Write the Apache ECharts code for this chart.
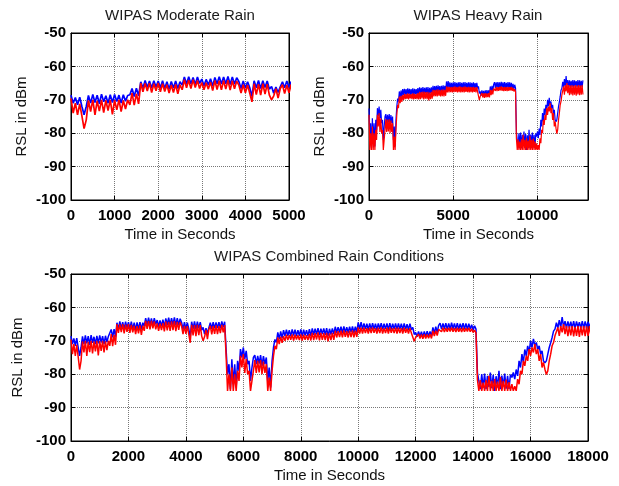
<!DOCTYPE html>
<html>
<head>
<meta charset="utf-8">
<script src="https://cdn.jsdelivr.net/npm/echarts@6/dist/echarts.min.js"></script>
<style>
  html, body { margin: 0; padding: 0; background: #fff; }
  #chart { width: 619px; height: 486px; }
</style>
</head>
<body>
<div id="chart"></div>
<script>
// sample spacing of the logged RSL values (seconds)
var STEP = 50;
// the heavy rain record starts where the moderate one ends in the combined plot
var HEAVY_OFFSET = 5400;

var titles = ['WIPAS Moderate Rain', 'WIPAS Heavy Rain', 'WIPAS Combined Rain Conditions'];
var xMax = [5000, 13000, 18000];
var xInterval = [1000, 5000, 2000];
var yRange = [-100, -50];
var yInterval = 10;

// moderate rain, t = 0 .. 5400 s
var moderateBlue = [
  -68.6,-71,-69.3,-71.5,-69.2,-72,-74.5,-72,-68.7,-71,
  -68.4,-70.8,-68.6,-71.2,-68.3,-70.6,-68.8,-71,-68.5,-70.8,
  -68.4,-70.5,-68.6,-71,-68.5,-70.4,-68.7,-68.5,-66.6,-69,
  -66.5,-68.8,-64.6,-66.5,-64.2,-66.3,-64.4,-66.5,-64.3,-66.2,
  -64.4,-66.4,-64.3,-66.6,-64.6,-66.8,-64.5,-66.5,-64.4,-66.6,
  -64.6,-65.6,-63.2,-65.3,-63.1,-65.2,-63.3,-65.4,-63.2,-65.1,
  -63.8,-65.8,-63.9,-65.6,-63.7,-65.9,-63.3,-65.2,-63.1,-65.3,
  -63.2,-65.2,-63,-65.4,-63.2,-65.3,-63.4,-64.5,-66.6,-64.4,
  -66.5,-64.6,-66.4,-69,-64.3,-66.4,-64.2,-66.6,-64.3,-66.3,
  -64.4,-66.8,-66,-68,-66.2,-67.8,-66.1,-64.6,-66.4,-64.4,
  -66.3,-64.5,-66.2,-64.4,-66.3,-64.2,-66,-64.3,-65.8
];
var moderateRed = [
  -69.6,-74,-71,-74.5,-71.2,-74.8,-78.6,-76,-70.2,-73.5,
  -70,-74.5,-70.3,-73.4,-70,-73.8,-70.2,-73.2,-70,-74.4,
  -70.1,-73,-70,-73.5,-70.2,-72.8,-70,-71.5,-68,-71.6,
  -68.2,-71.2,-65,-67.6,-65.1,-67.4,-65,-67.8,-65.2,-67.3,
  -65,-67.6,-65.2,-67.5,-65.5,-68,-65.6,-67.8,-65.4,-68.2,
  -65.5,-67,-64,-66.4,-64.1,-66.6,-64,-66.3,-64.2,-66.6,
  -64.8,-67,-64.9,-66.8,-64.7,-67.2,-64.2,-66.9,-64.3,-67,
  -64.2,-66.8,-64.1,-67.1,-64.3,-66.7,-64.4,-65.6,-68,-65.5,
  -67.9,-65.6,-68,-70.6,-65.2,-68.4,-65.3,-68.6,-65.2,-68.3,
  -65.3,-68.6,-70,-68.8,-66.7,-69.5,-66.6,-65.5,-68.1,-65.6,
  -67.9,-65.4,-68,-65.6,-67.7,-65.2,-67.5,-65.3,-66.8
];

// heavy rain, t = 0 .. 12700 s
var heavyBlue = [
  -72.6,-80,-77,-84.5,-75.5,-83,-77,-84,-76,-79,
  -72.5,-75,-72,-75.5,-73,-77,-76,-82,-78,-75,
  -74.3,-77,-74.5,-76.8,-74.3,-77.5,-74.6,-77,-75,-82,
  -78,-84,-76,-72,-69.6,-70.5,-67.5,-69.5,-67.2,-69.2,
  -66.8,-68.6,-66.7,-68.5,-66.8,-68.7,-66.6,-68.4,-66.7,-68.6,
  -66.8,-68.5,-66.6,-68.7,-66.7,-68.4,-66.8,-68.6,-66.5,-68.5,
  -66.3,-68.2,-66.4,-68.1,-66.2,-68.3,-66.4,-68,-66.3,-68.2,
  -66.2,-68.6,-66.4,-68.1,-66.3,-68,-65.8,-67.6,-65.9,-67.5,
  -65.8,-67.7,-65.7,-67.5,-65.9,-67.6,-65.8,-67.4,-65.7,-67.6,
  -65.8,-67.5,-64.5,-66.5,-64.4,-66.6,-64.8,-66.5,-64.9,-66.7,
  -64.8,-66.6,-64.7,-66.5,-64.9,-66.7,-64.8,-66.4,-64.7,-66.6,
  -64.9,-66.5,-64.8,-66.7,-64.7,-66.6,-64.9,-66.5,-64.8,-66.6,
  -64.8,-66.5,-64.9,-66.7,-64.8,-66.6,-65,-66.7,-64.9,-66.6,
  -66,-68.1,-67.5,-68.8,-67.2,-68.7,-67.3,-68.9,-67.2,-68.8,
  -67.1,-68.7,-67.2,-68.6,-66,-67.8,-65.8,-67.5,-65.4,-64.7,
  -66.5,-64.8,-66.4,-64.7,-66.6,-64.8,-66.5,-64.6,-66.4,-64.8,
  -66.5,-64.7,-66.6,-64.9,-66.4,-64.7,-66.5,-64.8,-66.6,-64.9,
  -66.5,-65.2,-66.8,-65.5,-66.5,-79.6,-82,-84.5,-80,-84,
  -79.8,-84.5,-80.5,-83.8,-79.5,-84.2,-80.2,-85,-80.6,-84,
  -79,-84.5,-80.4,-83.6,-79.8,-84.3,-80.5,-84.4,-80.1,-81,
  -79.5,-81.5,-78.6,-80.5,-76,-78,-74,-76.5,-72.6,-74.5,
  -71.5,-73.5,-70,-72,-69.4,-71.5,-70.5,-72.6,-71.5,-74,
  -73,-76,-76.6,-76,-74,-72,-70.6,-69,-67.1,-66.5,
  -64.6,-66.2,-63.8,-66,-62.9,-65.8,-64.1,-66.2,-64.2,-66.1,
  -64.3,-66.2,-64.1,-66.3,-64.2,-66,-64.4,-66.2,-64.1,-66.3,
  -64.2,-66.1,-64.3,-66.2,-64.2
];
var heavyRed = [
  -74.5,-85,-80,-85,-78,-85,-80,-85,-79,-82,
  -74.5,-78,-74,-79.6,-75.5,-80,-79,-85,-82,-79,
  -75.8,-79.6,-76,-79.5,-75.8,-80,-76.2,-79.6,-77,-85,
  -81,-85,-79,-74.5,-71.5,-72.5,-69,-71,-68.8,-70.6,
  -68.6,-70,-68.2,-69.8,-68.3,-69.7,-68.1,-69.9,-68.2,-69.6,
  -68.3,-69.8,-68.1,-69.9,-68.2,-69.7,-68.3,-69.8,-68,-69.9,
  -67.6,-69.8,-67.7,-69.6,-67.5,-69.9,-67.6,-69.7,-67.7,-69.8,
  -67.6,-70.2,-67.8,-69.8,-67.6,-69.7,-67,-69,-67.1,-68.9,
  -67,-69,-66.9,-68.8,-67.1,-69,-67,-68.9,-66.9,-69,
  -67,-68.8,-66,-67.8,-66.1,-67.8,-66.1,-67.7,-66.2,-67.8,
  -66.1,-67.7,-66,-67.6,-66.2,-67.8,-66.1,-67.7,-66,-67.8,
  -66.2,-67.7,-66.1,-67.8,-66,-67.6,-66.2,-67.7,-66.1,-67.8,
  -66.1,-67.7,-66.2,-67.8,-66.1,-67.6,-66.3,-67.8,-66.2,-67.7,
  -67.5,-70.1,-69,-69.3,-68,-69.3,-68.1,-69.4,-68,-69.3,
  -68.1,-69.2,-68,-69.3,-67,-68.6,-67,-68.4,-66.6,-66.1,
  -67.3,-66.1,-67.4,-66.2,-67.3,-66.1,-67.2,-66,-67.3,-66.2,
  -67.4,-66.1,-67.3,-66.2,-67.4,-66.1,-67.3,-66.2,-67.2,-66.1,
  -67.3,-66.4,-67.5,-66.8,-67.6,-81.6,-85,-81.8,-85,-82.5,
  -85,-81.8,-85,-80.5,-85,-82,-85,-81.5,-85,-82.2,
  -85,-80.8,-85,-82,-85,-81.6,-85,-82.4,-85,-83,
  -85,-83.6,-85,-81.5,-83,-79,-80,-76,-77.5,-74.5,
  -76,-72.5,-74.5,-72,-73.5,-71,-74,-72.5,-76,-74,
  -78,-76.5,-78.5,-80.1,-79,-76,-74,-71.5,-70.5,-68.5,
  -68.6,-66,-68.5,-65.6,-67.5,-65,-68,-65.6,-68.6,-65.7,
  -68.4,-65.6,-68.7,-65.8,-68.5,-65.6,-68.8,-65.7,-68.4,-65.6,
  -68.6,-65.7,-68.5,-65.6,-68.4
];

function toPairs(values, offset) {
  return values.map(function (v, i) { return [i * STEP + offset, v]; });
}

var combinedBlue = toPairs(moderateBlue.slice(0, -1), 0).concat(toPairs(heavyBlue, HEAVY_OFFSET));
var combinedRed = toPairs(moderateRed.slice(0, -1), 0).concat(toPairs(heavyRed, HEAVY_OFFSET));

var tickFont = {
  fontFamily: "'Liberation Sans Narrow', 'Liberation Sans', sans-serif",
  fontWeight: 'bold',
  fontSize: 15,
  color: '#000'
};
var nameFont = {
  fontFamily: "'Liberation Sans', Arial, sans-serif",
  fontSize: 15,
  color: '#111'
};

var grids = [
  { left: 71, top: 33, width: 218, height: 167 },
  { left: 369, top: 33, width: 219, height: 167 },
  { left: 71, top: 274, width: 517, height: 167 }
];
var titlePos = [[180, 8], [478, 8], [329, 249]];
var lineWidths = [1.7, 1.2, 1.5];

function plain(v) { return String(v); }

var xAxes = [], yAxes = [];
for (var g = 0; g < 3; g++) {
  xAxes.push({
    type: 'value', gridIndex: g, position: 'bottom',
    min: 0, max: xMax[g], interval: xInterval[g],
    axisLine: { show: true, onZero: false, lineStyle: { color: '#000', width: 1 } },
    axisTick: { show: true, inside: true, length: 4, lineStyle: { color: '#000' } },
    axisLabel: Object.assign({ margin: 8, formatter: plain, hideOverlap: false,
      showMaxLabel: xMax[g] % xInterval[g] === 0 }, tickFont),
    splitLine: { show: true, lineStyle: { color: '#777', type: 'dotted', width: 1 } },
    name: 'Time in Seconds', nameLocation: 'middle', nameGap: 27,
    nameTextStyle: nameFont
  });
  yAxes.push({
    type: 'value', gridIndex: g, position: 'left',
    min: yRange[0], max: yRange[1], interval: yInterval,
    axisLine: { show: true, onZero: false, lineStyle: { color: '#000', width: 1 } },
    axisTick: { show: true, inside: true, length: 4, lineStyle: { color: '#000' } },
    axisLabel: Object.assign({ margin: 5, formatter: plain }, tickFont),
    splitLine: { show: true, lineStyle: { color: '#777', type: 'dotted', width: 1 } },
    name: 'RSL in dBm', nameLocation: 'middle', nameGap: 42,
    nameTextStyle: nameFont
  });
}
// ticks on the top and right edges of each box
for (var h = 0; h < 3; h++) {
  xAxes.push({
    type: 'value', gridIndex: h, position: 'top',
    min: 0, max: xMax[h], interval: xInterval[h],
    axisLine: { show: true, onZero: false, lineStyle: { color: '#000' } },
    axisTick: { show: true, inside: true, length: 4, lineStyle: { color: '#000' } },
    axisLabel: { show: false }, splitLine: { show: false }
  });
  yAxes.push({
    type: 'value', gridIndex: h, position: 'right',
    min: yRange[0], max: yRange[1], interval: yInterval,
    axisLine: { show: true, onZero: false, lineStyle: { color: '#000' } },
    axisTick: { show: true, inside: true, length: 4, lineStyle: { color: '#000' } },
    axisLabel: { show: false }, splitLine: { show: false }
  });
}

function line(idx, data, color) {
  return {
    type: 'line', xAxisIndex: idx, yAxisIndex: idx, data: data,
    showSymbol: false, symbol: 'none', clip: true, silent: true,
    lineStyle: { width: lineWidths[idx], color: color, join: 'bevel' }, itemStyle: { color: color }
  };
}

var chart = echarts.init(document.getElementById('chart'));
chart.setOption({
  animation: false,
  backgroundColor: '#fff',
  title: titles.map(function (t, i) {
    return {
      text: t, left: titlePos[i][0], top: titlePos[i][1], textAlign: 'center', padding: 0,
      textStyle: { fontFamily: "'Liberation Sans', Arial, sans-serif", fontSize: 15, fontWeight: 'normal', color: '#1a1a1a' }
    };
  }),
  grid: grids.map(function (r) {
    return Object.assign({ show: true, borderColor: '#000', borderWidth: 1, backgroundColor: '#fff', containLabel: false }, r);
  }),
  xAxis: xAxes,
  yAxis: yAxes,
  series: [
    line(0, toPairs(moderateBlue, 0), '#0000ff'),
    line(0, toPairs(moderateRed, 0), '#ff0000'),
    line(1, toPairs(heavyBlue, 0), '#0000ff'),
    line(1, toPairs(heavyRed, 0), '#ff0000'),
    line(2, combinedBlue, '#0000ff'),
    line(2, combinedRed, '#ff0000')
  ]
});
</script>
</body>
</html>
